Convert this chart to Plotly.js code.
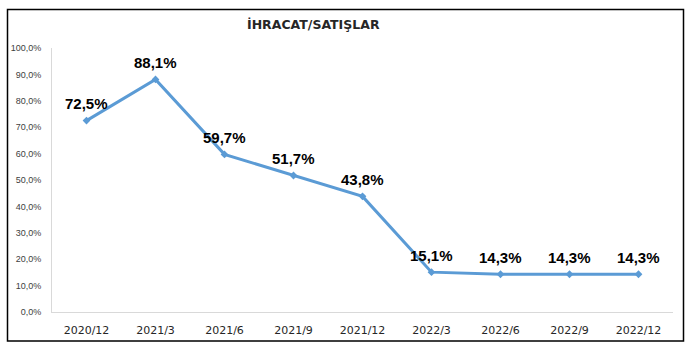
<!DOCTYPE html>
<html>
<head>
<meta charset="utf-8">
<script src="https://cdn.plot.ly/plotly-3.0.1.min.js"></script>
<style>
html,body{margin:0;padding:0;background:#fff;}
#chart{width:693px;height:351px;}
</style>
</head>
<body>
<div id="chart"></div>
<script>
var categories = ["2020/12","2021/3","2021/6","2021/9","2021/12","2022/3","2022/6","2022/9","2022/12"];
var values = [0.725, 0.881, 0.597, 0.517, 0.438, 0.151, 0.143, 0.143, 0.143];
var labels = ["72,5%","88,1%","59,7%","51,7%","43,8%","15,1%","14,3%","14,3%","14,3%"];
var chartTitle = "İHRACAT/SATIŞLAR";

var trace = {
  type: "scatter",
  mode: "lines+markers",
  x: categories,
  y: values,
  line: {color: "#5B9BD5", width: 3},
  marker: {symbol: "diamond", size: 6, color: "#5B9BD5"},
  hoverinfo: "skip"
};

var annotations = categories.map(function(c, i){
  return {
    x: c, y: values[i], xref: "x", yref: "y",
    text: labels[i], showarrow: false, yshift: 17,
    font: {family: "Liberation Sans, Arial, sans-serif", size: 15, color: "#000000", weight: "bold"}
  };
});
annotations.push({
  xref: "paper", yref: "paper", x: (313 - 52) / 621, y: (312 - 25) / 264,
  xanchor: "center", yanchor: "middle", showarrow: false,
  text: "<b>" + chartTitle + "</b>",
  font: {family: "DejaVu Sans, sans-serif", size: 12.5, color: "#262626"}
});

var layout = {
  width: 693, height: 351,
  margin: {l: 52, r: 20, t: 48, b: 39},
  paper_bgcolor: "#ffffff", plot_bgcolor: "#ffffff",
  separators: ",.",
  showlegend: false,
  xaxis: {
    type: "category", range: [-0.5, 8.5],
    showgrid: false, zeroline: false,
    showline: true, linecolor: "#D9D9D9", linewidth: 1,
    ticks: "", ticklabelstandoff: 8,
    tickfont: {family: "DejaVu Sans, sans-serif", size: 11, color: "#262626"}
  },
  yaxis: {
    range: [0, 1], tickmode: "linear", tick0: 0, dtick: 0.1,
    tickformat: ".1%",
    showgrid: false, zeroline: false,
    showline: true, linecolor: "#D9D9D9", linewidth: 1,
    ticks: "", ticklabelstandoff: 8,
    tickfont: {family: "Liberation Sans, Arial, sans-serif", size: 9, color: "#404040"}
  },
  annotations: annotations,
  shapes: [{
    type: "rect", xref: "paper", yref: "paper",
    x0: (7.5 - 52) / 621, x1: (683.5 - 52) / 621,
    y0: (312 - 341) / 264, y1: (312 - 9.5) / 264,
    line: {color: "#000000", width: 1.5}, fillcolor: "rgba(0,0,0,0)"
  }]
};

Plotly.newPlot("chart", [trace], layout, {displayModeBar: false, staticPlot: true});
</script>
</body>
</html>
